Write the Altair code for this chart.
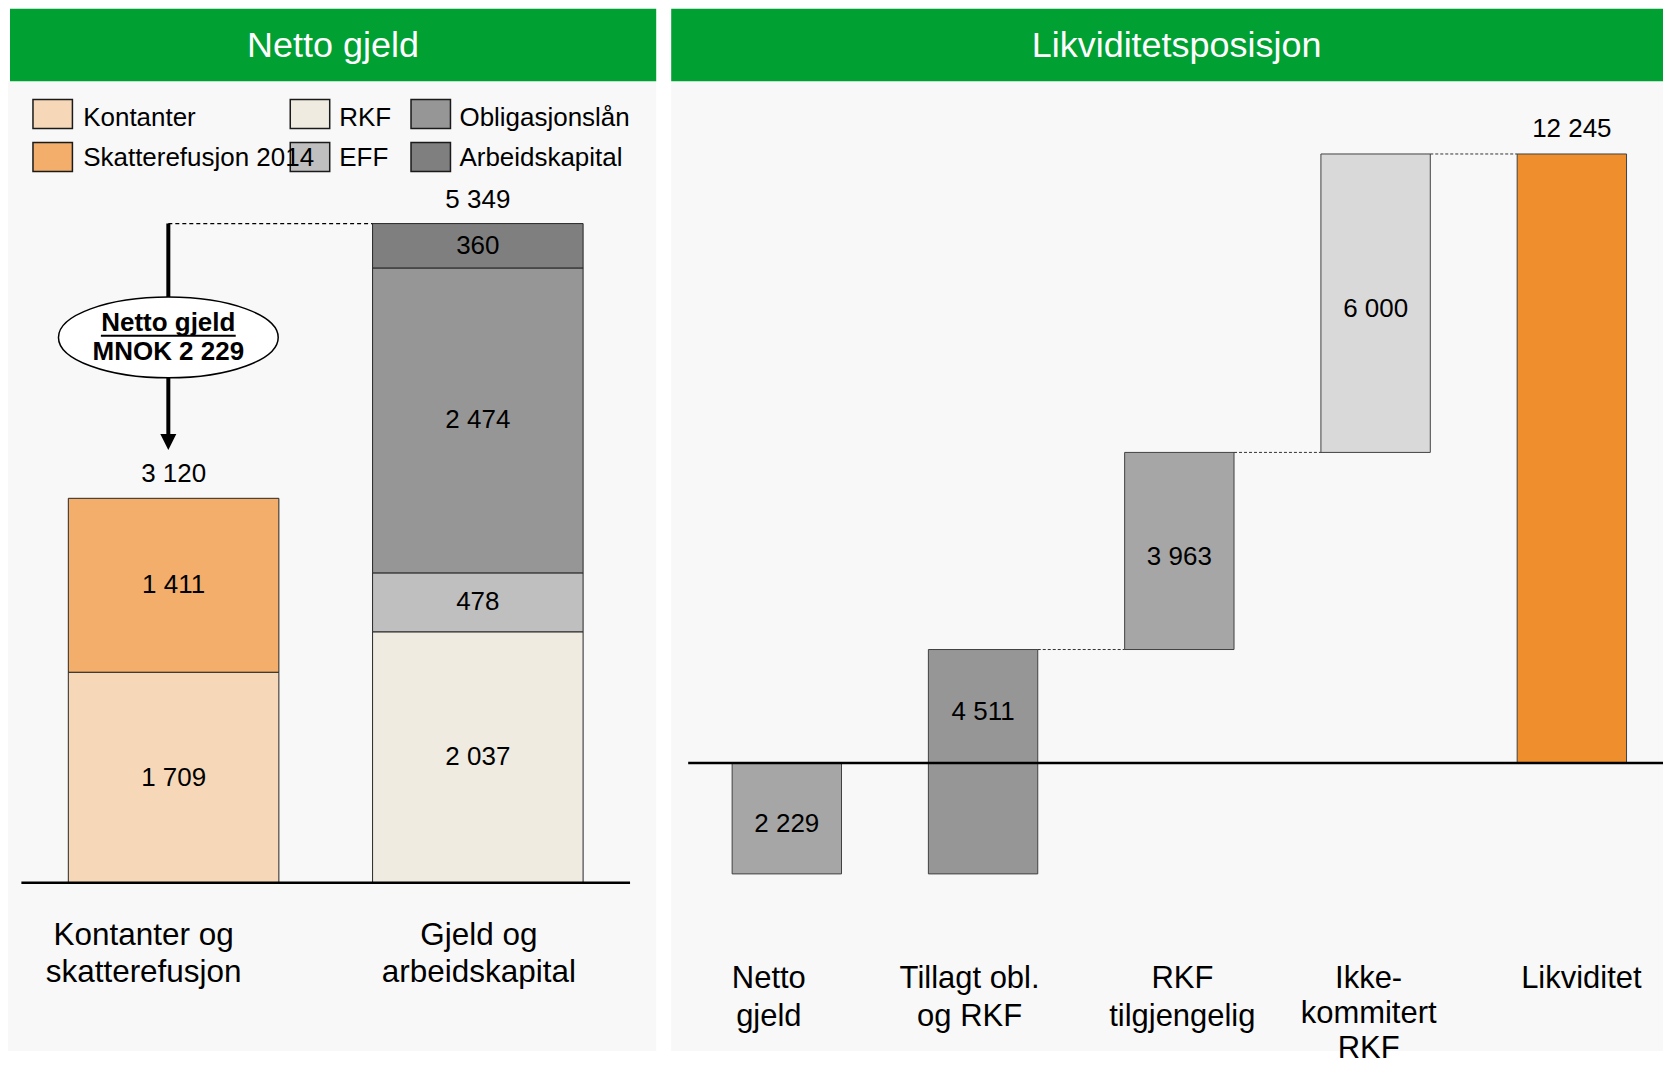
import altair as alt
import pandas as pd

FONT = "Liberation Sans"

# ---------------- data: left panel (Netto gjeld) ----------------
left_categories = ["Kontanter og\nskatterefusjon", "Gjeld og\narbeidskapital"]
seg_names = ["Kontanter", "Skatterefusjon 2014", "RKF", "EFF", "Obligasjonslån", "Arbeidskapital"]
seg_category = [0, 0, 1, 1, 1, 1]
seg_values = [1709, 1411, 2037, 478, 2474, 360]
seg_colors = ["#f6d8b8", "#f2ae6a", "#efebe1", "#bfbfbf", "#969696", "#7f7f7f"]
legend_rows = [["Kontanter", "RKF", "Obligasjonslån"],
               ["Skatterefusjon 2014", "EFF", "Arbeidskapital"]]
netto_text = ["Netto gjeld", "MNOK 2 229"]

# ---------------- data: right panel (Likviditetsposisjon) ----------------
wf_categories = ["Netto gjeld", "Tillagt obl. og RKF", "RKF tilgjengelig",
                 "Ikke-kommitert RKF", "Likviditet"]
wf_axis_labels = ["Netto\ngjeld", "Tillagt obl.\nog RKF", "RKF\ntilgjengelig",
                  "Ikke-\nkommitert\nRKF", "Likviditet"]
wf_values = [-2229, 4511, 3963, 6000, 12245]
wf_is_total = [False, False, False, False, True]
wf_colors = ["#a6a6a6", "#969696", "#a6a6a6", "#d9d9d9", "#ee8e2c"]

titles = ["Netto gjeld", "Likviditetsposisjon"]
GREEN = "#00a032"
PANEL_BG = "#f8f8f8"
H = 1052


def fmt(v):
    return f"{abs(v):,}".replace(",", " ")


one = pd.DataFrame({"k": [0]})


def vrect(x, x2, y, y2, color):
    return alt.Chart(one).mark_rect(color=color).encode(
        x=alt.value(x), x2=alt.value(x2), y=alt.value(y), y2=alt.value(y2))


def vtext(txt, x, y, size, color="black", weight="normal", align="center"):
    return alt.Chart(one).mark_text(
        font=FONT, fontSize=size, color=color, fontWeight=weight,
        align=align, baseline="alphabetic").encode(
        x=alt.value(x), y=alt.value(y), text=alt.value(txt))


# ================= LEFT PANEL =================
rows = []
tops = [0, 0]
for n, c, v in zip(seg_names, seg_category, seg_values):
    lo = tops[c]
    hi = lo + v
    tops[c] = hi
    rows.append({"name": n, "cat": left_categories[c], "lo": lo, "hi": hi,
                 "mid": (lo + hi) / 2, "label": fmt(v)})
segs = pd.DataFrame(rows)
totals = pd.DataFrame({"cat": left_categories, "total": tops,
                       "label": [fmt(t) for t in tops]})

xL = alt.Scale(domain=left_categories, range=[60.4, 575.8],
               paddingInner=0.308, paddingOuter=0)
yL = alt.Scale(domain=[-1432, 7093], nice=False, zero=False)
cL = alt.Scale(domain=seg_names, range=seg_colors)

left_layers = [
    vrect(0, 649, 72.7, 1043.7, PANEL_BG),
    vrect(2, 649, 0, 72.7, GREEN),
    vtext(titles[0], 325.4, 48.7, 36, color="white"),
]

# legend
sw_x = [25, 282.6, 403.5]
tx_x = [75.3, 331.7, 452]
sw_y = [91, 134]
tx_y = [118, 158]
for r, names in enumerate(legend_rows):
    for c, n in enumerate(names):
        left_layers.append(
            alt.Chart(pd.DataFrame({"name": [n]})).mark_rect(
                stroke="#1a1a1a", strokeWidth=1.5).encode(
                x=alt.value(sw_x[c]), x2=alt.value(sw_x[c] + 39.5),
                y=alt.value(sw_y[r]), y2=alt.value(sw_y[r] + 29),
                color=alt.Color("name:N", scale=cL, legend=None)))
for r, names in enumerate(legend_rows):
    for c, n in enumerate(names):
        left_layers.append(vtext(n, tx_x[c], tx_y[r], 26, align="left"))

bars_L = alt.Chart(segs).mark_bar(stroke="#262626", strokeWidth=1).encode(
    x=alt.X("cat:N", scale=xL, axis=None),
    y=alt.Y("lo:Q", scale=yL, axis=None),
    y2="hi:Q",
    color=alt.Color("name:N", scale=cL, legend=None))
seg_labels = alt.Chart(segs).mark_text(
    font=FONT, fontSize=26, baseline="middle", color="black").encode(
    x=alt.X("cat:N", scale=xL, axis=None),
    y=alt.Y("mid:Q", scale=yL, axis=None),
    text="label:N")
tot_labels = alt.Chart(totals).mark_text(
    font=FONT, fontSize=26, baseline="middle", dy=-24, color="black").encode(
    x=alt.X("cat:N", scale=xL, axis=None),
    y=alt.Y("total:Q", scale=yL, axis=None),
    text="label:N")
base_L = alt.Chart(pd.DataFrame({"v": [0]})).mark_rule(
    color="black", strokeWidth=2.5).encode(
    x=alt.value(13.4), x2=alt.value(622.8),
    y=alt.Y("v:Q", scale=yL, axis=None))

ann = pd.DataFrame({"from": [left_categories[0]], "to": [left_categories[1]],
                    "y": [tops[1]]})
ax = alt.X("from:N", scale=xL, bandPosition=0.475, axis=None)
dash_L = alt.Chart(ann).mark_rule(color="black", strokeWidth=1.2,
                                  strokeDash=[4, 3]).encode(
    x=ax, x2=alt.X2("to:N", bandPosition=0),
    y=alt.Y("y:Q", scale=yL, axis=None))
arrow_line = alt.Chart(ann).mark_rule(color="black", strokeWidth=4).encode(
    x=ax, y=alt.Y("y:Q", scale=yL, axis=None), y2=alt.value(427))
arrow_head = alt.Chart(ann).mark_point(
    shape="M -1 -1 L 1 -1 L 0 1 Z", size=256, filled=True, color="black",
    opacity=1).encode(x=ax, y=alt.value(434))
ellipse = alt.Chart(ann).mark_point(
    shape="M -1 0 A 1 0.368 0 1 0 1 0 A 1 0.368 0 1 0 -1 0 Z",
    size=48400, filled=True, fill="white", stroke="black",
    strokeWidth=1.5, opacity=1, fillOpacity=1, strokeOpacity=1).encode(
    x=ax, y=alt.value(329.2))
ell_t1 = alt.Chart(ann).mark_text(
    font=FONT, fontSize=26, fontWeight="bold", baseline="alphabetic",
    color="black").encode(x=ax, y=alt.value(323), text=alt.value(netto_text[0]))
ell_t2 = alt.Chart(ann).mark_text(
    font=FONT, fontSize=26, fontWeight="bold", baseline="alphabetic",
    color="black").encode(x=ax, y=alt.value(351.3), text=alt.value(netto_text[1]))
underline = alt.Chart(one).mark_rule(color="black", strokeWidth=2.2).encode(
    x=alt.value(93), x2=alt.value(228), y=alt.value(327.5))

left_layers += [bars_L, seg_labels, tot_labels, base_L, dash_L, arrow_line,
                arrow_head, ellipse, ell_t1, ell_t2, underline]

for c, dx in zip(left_categories, [-30, 1]):
    left_layers.append(
        alt.Chart(pd.DataFrame({"cat": [c]})).mark_text(
            font=FONT, fontSize=31.5, lineBreak="\n", lineHeight=37,
            baseline="alphabetic", dx=dx, color="black").encode(
            x=alt.X("cat:N", scale=xL, axis=None),
            y=alt.value(937.5), text="cat:N"))

left = alt.layer(*left_layers).properties(width=649, height=H)

# ================= RIGHT PANEL =================
rows = []
run = 0
for c, lab, v, tot in zip(wf_categories, wf_axis_labels, wf_values, wf_is_total):
    if tot:
        lo, hi = 0, v
    else:
        lo, hi = run, run + v
    run = hi
    a, b = min(lo, hi), max(lo, hi)
    mid = b / 2 if a < 0 < b else (a + b) / 2
    rows.append({"cat": c, "axlab": lab, "lo": lo, "hi": hi, "mid": mid,
                 "label": fmt(v), "total": tot})
wf = pd.DataFrame(rows)
conn = pd.DataFrame([
    {"from": wf_categories[i], "to": wf_categories[i + 1], "y": rows[i]["hi"]}
    for i in range(len(rows) - 1) if rows[i]["hi"] > 0])

xR = alt.Scale(domain=wf_categories, range=[61, 956.5],
               paddingInner=0.4427, paddingOuter=0)
yR = alt.Scale(domain=[-5958, 15167], nice=False, zero=False)
cR = alt.Scale(domain=wf_categories, range=wf_colors)

right_layers = [
    vrect(0, 993, 72.7, 1043.7, PANEL_BG),
    vrect(0, 993, 0, 72.7, GREEN),
    vtext(titles[1], 506, 48.7, 36, color="white"),
]
bars_R = alt.Chart(wf).mark_bar(stroke="#404040", strokeWidth=1).encode(
    x=alt.X("cat:N", scale=xR, axis=None),
    y=alt.Y("lo:Q", scale=yR, axis=None),
    y2="hi:Q",
    color=alt.Color("cat:N", scale=cR, legend=None))
base_R = alt.Chart(pd.DataFrame({"v": [0]})).mark_rule(
    color="black", strokeWidth=2.5).encode(
    x=alt.value(17), x2=alt.value(993),
    y=alt.Y("v:Q", scale=yR, axis=None))
conn_R = alt.Chart(conn).mark_rule(color="#333333", strokeWidth=1,
                                   strokeDash=[3, 2]).encode(
    x=alt.X("from:N", scale=xR, bandPosition=1, axis=None),
    x2=alt.X2("to:N", bandPosition=0),
    y=alt.Y("y:Q", scale=yR, axis=None))
in_labels = alt.Chart(wf[~wf["total"]]).mark_text(
    font=FONT, fontSize=26, baseline="middle", dy=6, color="black").encode(
    x=alt.X("cat:N", scale=xR, axis=None),
    y=alt.Y("mid:Q", scale=yR, axis=None),
    text="label:N")
top_labels = alt.Chart(wf[wf["total"]]).mark_text(
    font=FONT, fontSize=26, baseline="middle", dy=-25, color="black").encode(
    x=alt.X("cat:N", scale=xR, axis=None),
    y=alt.Y("hi:Q", scale=yR, axis=None),
    text="label:N")
right_layers += [bars_R, base_R, conn_R, in_labels, top_labels]

for c, lab, dx in zip(wf_categories, wf_axis_labels, [-18, -13.5, 3, -7, 9.5]):
    n_lines = lab.count("\n") + 1
    lh = 35 if n_lines > 2 else 37.5
    right_layers.append(
        alt.Chart(pd.DataFrame({"cat": [c], "axlab": [lab]})).mark_text(
            font=FONT, fontSize=31, lineBreak="\n", lineHeight=lh,
            baseline="alphabetic", dx=dx, color="black").encode(
            x=alt.X("cat:N", scale=xR, axis=None),
            y=alt.value(981), text="axlab:N"))

right = alt.layer(*right_layers).properties(width=993, height=H)

chart = (
    alt.hconcat(left, right, spacing=15)
    .resolve_scale(x="independent", y="independent", color="independent")
    .properties(padding=0, background="white")
    .configure_view(stroke=None)
)

chart.save("out.html", embed_options={"renderer": "svg", "actions": False})
